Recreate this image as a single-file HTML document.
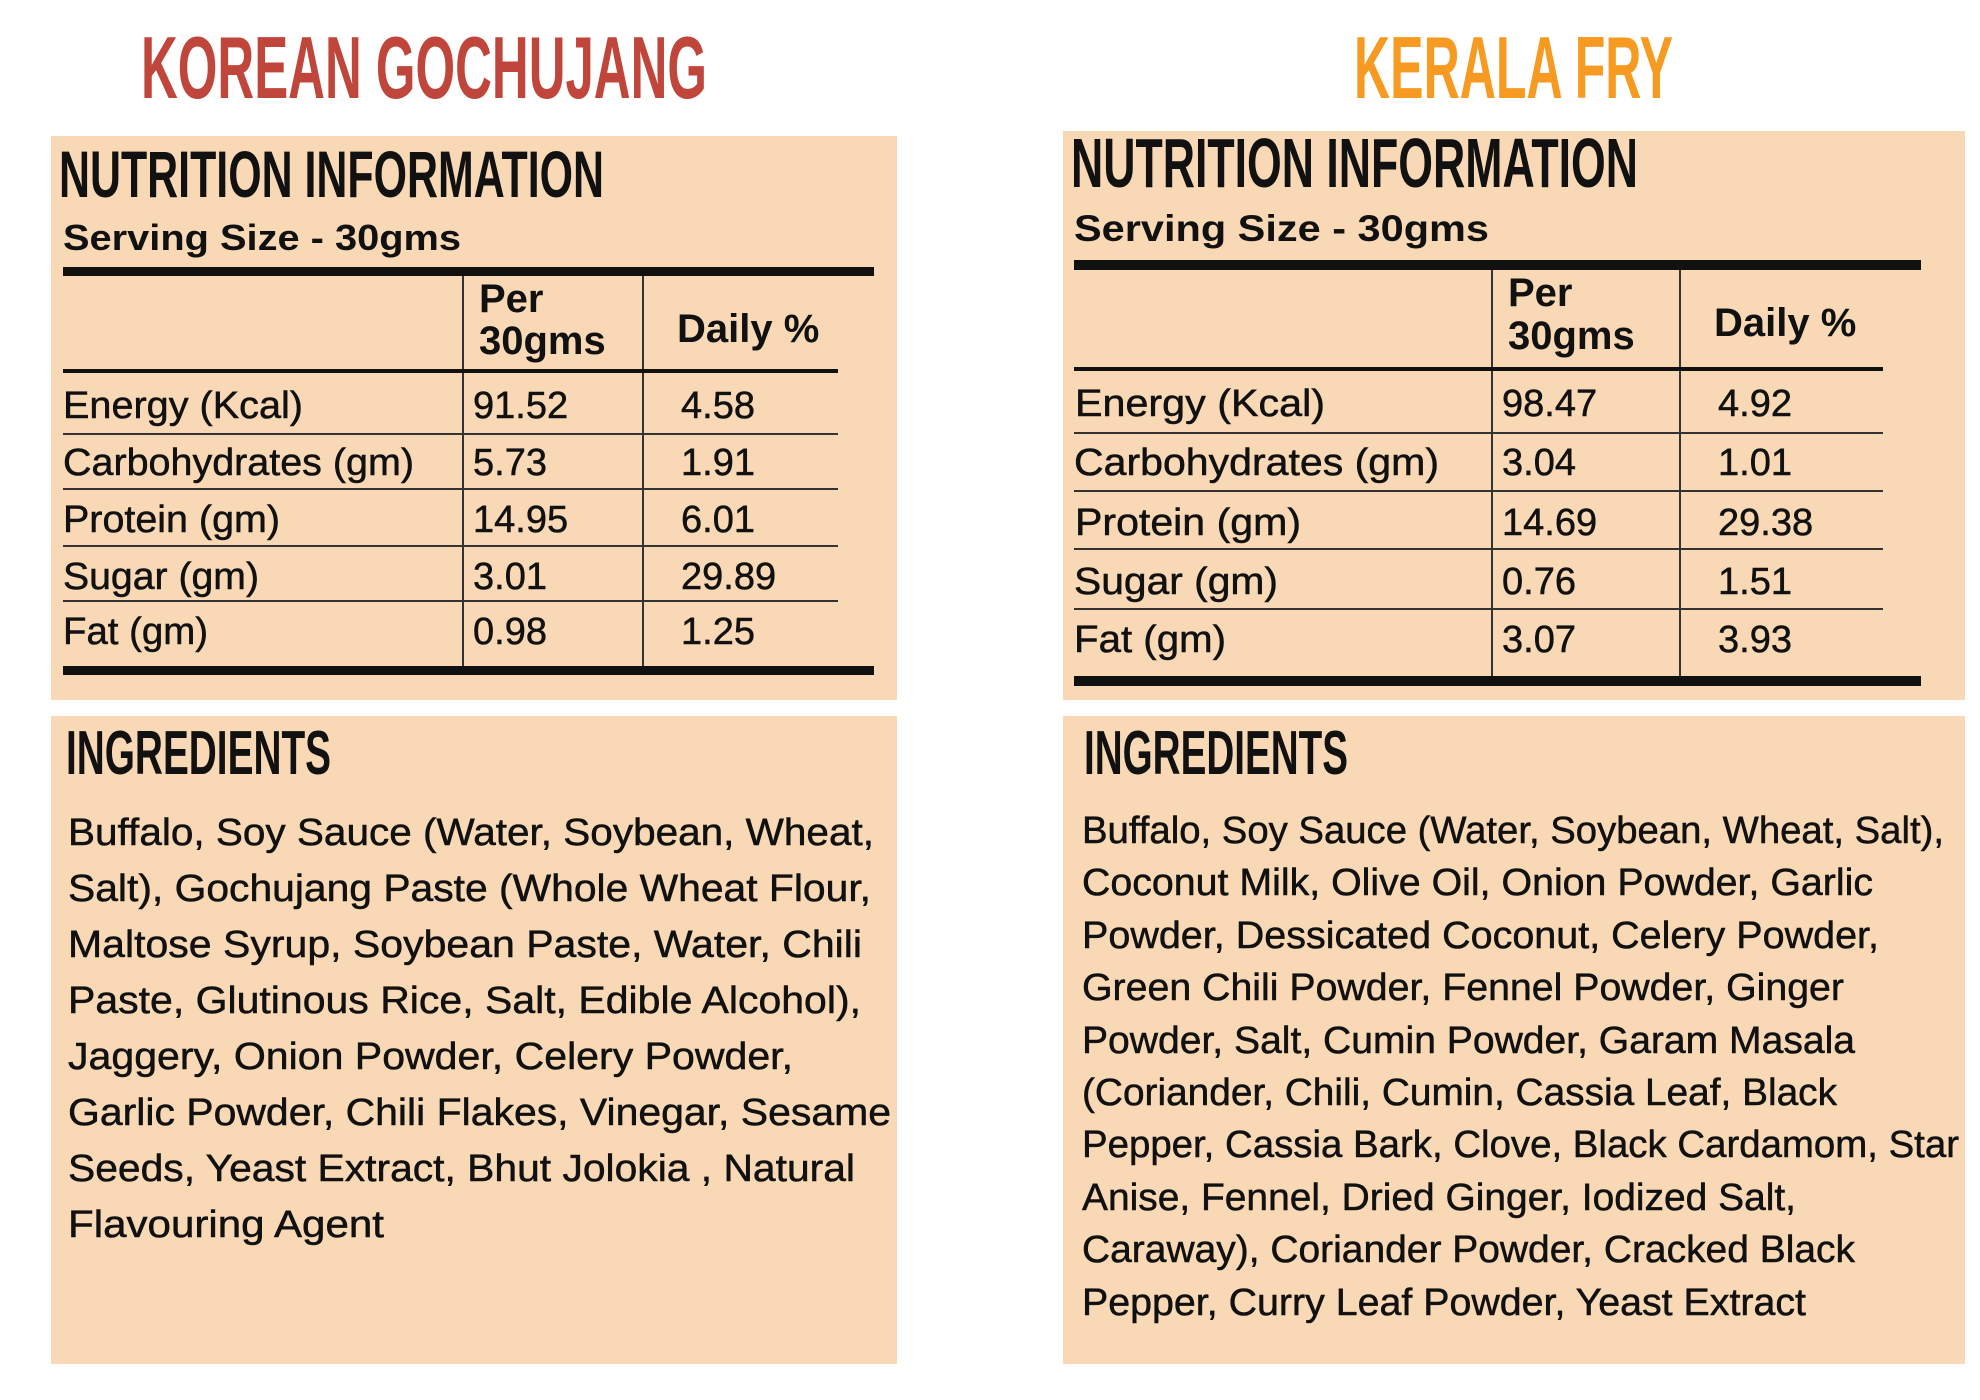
<!DOCTYPE html>
<html><head><meta charset="utf-8"><style>
html,body{margin:0;padding:0;background:#fff;width:1980px;height:1400px;overflow:hidden}
svg{display:block}
text{font-family:"Liberation Sans",sans-serif;fill:#111}
.h{font-weight:bold}
.t{font-size:38px;stroke:#111;stroke-width:0.5}
.i{font-size:38px;stroke:#111;stroke-width:0.5}
.hd{font-size:40px;font-weight:bold}
</style></head><body>
<svg width="1980" height="1400" viewBox="0 0 1980 1400" xmlns="http://www.w3.org/2000/svg">
<rect x="51" y="136" width="846" height="564" fill="#f8d8b5"/>
<rect x="1063" y="131" width="902" height="569" fill="#f8d8b5"/>
<rect x="51" y="716" width="846" height="648" fill="#f8d8b5"/>
<rect x="1063" y="716" width="902" height="648" fill="#f8d8b5"/>

<text class="h" x="141" y="98" font-size="88" textLength="566" lengthAdjust="spacingAndGlyphs" style="fill:#c0463b">KOREAN GOCHUJANG</text>
<text class="h" x="1354" y="98" font-size="88" textLength="319" lengthAdjust="spacingAndGlyphs" style="fill:#f79a22">KERALA FRY</text>

<!-- Left table -->
<text class="h" x="59" y="197" font-size="66" textLength="545" lengthAdjust="spacingAndGlyphs">NUTRITION INFORMATION</text>
<text class="h" x="63" y="250" font-size="36" textLength="398" lengthAdjust="spacingAndGlyphs">Serving Size - 30gms</text>
<rect x="63" y="267" width="811" height="9" fill="#111"/>
<rect x="462" y="276" width="2" height="390" fill="#333"/>
<rect x="642" y="276" width="2" height="390" fill="#333"/>
<rect x="63" y="369" width="775" height="4" fill="#111"/>
<text class="hd" x="479" y="312">Per</text>
<text class="hd" x="479" y="354">30gms</text>
<text class="hd" x="677" y="342">Daily %</text>
<g stroke="#333" stroke-width="2">
<line x1="63" y1="434" x2="838" y2="434"/><line x1="63" y1="489" x2="838" y2="489"/>
<line x1="63" y1="546" x2="838" y2="546"/><line x1="63" y1="601" x2="838" y2="601"/>
</g>
<rect x="63" y="666" width="811" height="9" fill="#111"/>
<text class="t" x="63" y="418" textLength="240" lengthAdjust="spacingAndGlyphs">Energy  (Kcal)</text>
<text class="t" x="63" y="475" textLength="351" lengthAdjust="spacingAndGlyphs">Carbohydrates (gm)</text>
<text class="t" x="63" y="532" textLength="217" lengthAdjust="spacingAndGlyphs">Protein (gm)</text>
<text class="t" x="63" y="589" textLength="196" lengthAdjust="spacingAndGlyphs">Sugar (gm)</text>
<text class="t" x="63" y="644" textLength="145" lengthAdjust="spacingAndGlyphs">Fat (gm)</text>
<text class="t" x="473" y="418">91.52</text><text class="t" x="681" y="418">4.58</text>
<text class="t" x="473" y="475">5.73</text><text class="t" x="681" y="475">1.91</text>
<text class="t" x="473" y="532">14.95</text><text class="t" x="681" y="532">6.01</text>
<text class="t" x="473" y="589">3.01</text><text class="t" x="681" y="589">29.89</text>
<text class="t" x="473" y="644">0.98</text><text class="t" x="681" y="644">1.25</text>

<!-- Right table -->
<text class="h" x="1071" y="187" font-size="70" textLength="567" lengthAdjust="spacingAndGlyphs">NUTRITION INFORMATION</text>
<text class="h" x="1074" y="241" font-size="37" textLength="415" lengthAdjust="spacingAndGlyphs">Serving Size - 30gms</text>
<rect x="1074" y="260" width="847" height="10" fill="#111"/>
<rect x="1491" y="270" width="2" height="410" fill="#333"/>
<rect x="1679" y="270" width="2" height="410" fill="#333"/>
<rect x="1074" y="367" width="809" height="4" fill="#111"/>
<text class="hd" x="1508" y="306">Per</text>
<text class="hd" x="1508" y="349">30gms</text>
<text class="hd" x="1714" y="336">Daily %</text>
<g stroke="#333" stroke-width="2">
<line x1="1074" y1="433" x2="1883" y2="433"/><line x1="1074" y1="491" x2="1883" y2="491"/>
<line x1="1074" y1="549" x2="1883" y2="549"/><line x1="1074" y1="609" x2="1883" y2="609"/>
</g>
<rect x="1074" y="676" width="847" height="10" fill="#111"/>
<text class="t" x="1075" y="416" textLength="250" lengthAdjust="spacingAndGlyphs">Energy  (Kcal)</text>
<text class="t" x="1074" y="475" textLength="365" lengthAdjust="spacingAndGlyphs">Carbohydrates (gm)</text>
<text class="t" x="1075" y="535" textLength="226" lengthAdjust="spacingAndGlyphs">Protein (gm)</text>
<text class="t" x="1074" y="594" textLength="204" lengthAdjust="spacingAndGlyphs">Sugar (gm)</text>
<text class="t" x="1074" y="652" textLength="152" lengthAdjust="spacingAndGlyphs">Fat (gm)</text>
<text class="t" x="1502" y="416">98.47</text><text class="t" x="1718" y="416">4.92</text>
<text class="t" x="1502" y="475">3.04</text><text class="t" x="1718" y="475">1.01</text>
<text class="t" x="1502" y="535">14.69</text><text class="t" x="1718" y="535">29.38</text>
<text class="t" x="1502" y="594">0.76</text><text class="t" x="1718" y="594">1.51</text>
<text class="t" x="1502" y="652">3.07</text><text class="t" x="1718" y="652">3.93</text>

<!-- Ingredients left -->
<text class="h" x="66" y="774" font-size="62" textLength="265" lengthAdjust="spacingAndGlyphs">INGREDIENTS</text>
<text class="i" x="68" y="845" textLength="806" lengthAdjust="spacingAndGlyphs">Buffalo, Soy Sauce (Water, Soybean, Wheat,</text>
<text class="i" x="68" y="901" textLength="803" lengthAdjust="spacingAndGlyphs">Salt), Gochujang Paste (Whole Wheat Flour,</text>
<text class="i" x="68" y="957" textLength="794" lengthAdjust="spacingAndGlyphs">Maltose Syrup, Soybean Paste, Water, Chili</text>
<text class="i" x="68" y="1013" textLength="793" lengthAdjust="spacingAndGlyphs">Paste, Glutinous Rice, Salt, Edible Alcohol),</text>
<text class="i" x="68" y="1069" textLength="725" lengthAdjust="spacingAndGlyphs">Jaggery, Onion Powder, Celery Powder,</text>
<text class="i" x="68" y="1125" textLength="823" lengthAdjust="spacingAndGlyphs">Garlic Powder, Chili Flakes, Vinegar, Sesame</text>
<text class="i" x="68" y="1181" textLength="787" lengthAdjust="spacingAndGlyphs">Seeds, Yeast Extract, Bhut Jolokia , Natural</text>
<text class="i" x="68" y="1237" textLength="316" lengthAdjust="spacingAndGlyphs">Flavouring Agent</text>

<!-- Ingredients right -->
<text class="h" x="1084" y="774" font-size="62" textLength="264" lengthAdjust="spacingAndGlyphs">INGREDIENTS</text>
<text class="i" x="1082" y="843" textLength="862" lengthAdjust="spacingAndGlyphs">Buffalo, Soy Sauce (Water, Soybean, Wheat, Salt),</text>
<text class="i" x="1082" y="895" textLength="791" lengthAdjust="spacingAndGlyphs">Coconut Milk, Olive Oil, Onion Powder, Garlic</text>
<text class="i" x="1082" y="948" textLength="797" lengthAdjust="spacingAndGlyphs">Powder, Dessicated Coconut, Celery Powder,</text>
<text class="i" x="1082" y="1000" textLength="762" lengthAdjust="spacingAndGlyphs">Green Chili Powder, Fennel Powder, Ginger</text>
<text class="i" x="1082" y="1053" textLength="773" lengthAdjust="spacingAndGlyphs">Powder, Salt, Cumin Powder, Garam Masala</text>
<text class="i" x="1082" y="1105" textLength="755" lengthAdjust="spacingAndGlyphs">(Coriander, Chili, Cumin, Cassia Leaf, Black</text>
<text class="i" x="1082" y="1157" textLength="877" lengthAdjust="spacingAndGlyphs">Pepper, Cassia Bark, Clove, Black Cardamom, Star</text>
<text class="i" x="1082" y="1210" textLength="714" lengthAdjust="spacingAndGlyphs">Anise, Fennel, Dried Ginger, Iodized Salt,</text>
<text class="i" x="1082" y="1262" textLength="773" lengthAdjust="spacingAndGlyphs">Caraway), Coriander Powder, Cracked Black</text>
<text class="i" x="1082" y="1315" textLength="724" lengthAdjust="spacingAndGlyphs">Pepper, Curry Leaf Powder, Yeast Extract</text>
</svg>
</body></html>
